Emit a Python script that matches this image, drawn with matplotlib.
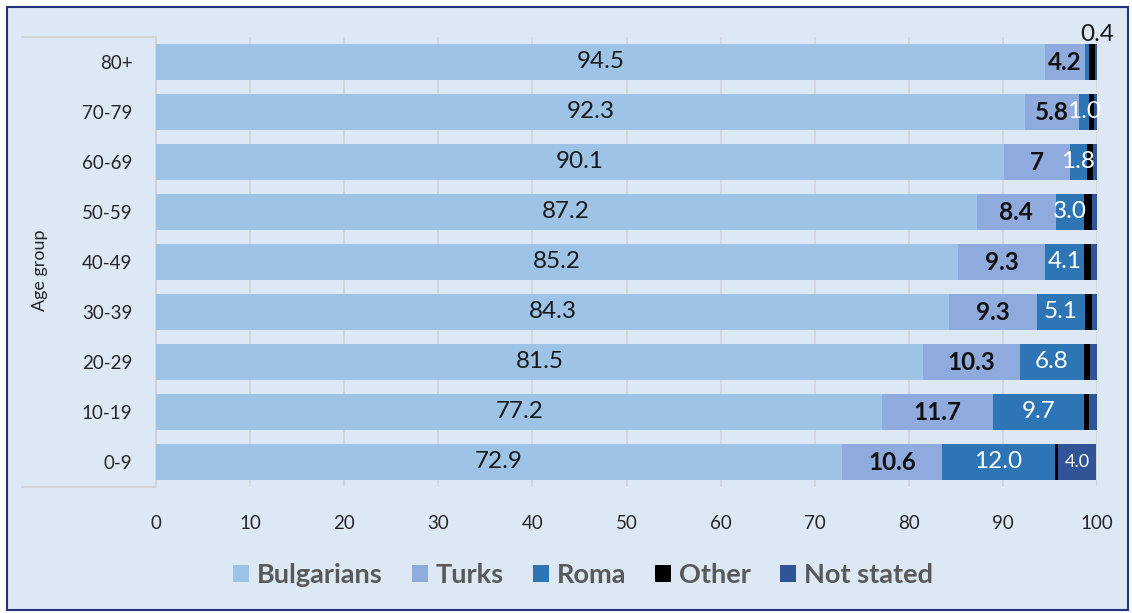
import matplotlib
matplotlib.use("Agg")
import matplotlib.pyplot as plt
from matplotlib.patches import Rectangle
from matplotlib.lines import Line2D
import numpy as np

plt.rcParams['font.family'] = ['Lato', 'DejaVu Sans']

age_groups = ["0-9", "10-19", "20-29", "30-39", "40-49", "50-59", "60-69", "70-79", "80+"]
bulgarians = [72.9, 77.2, 81.5, 84.3, 85.2, 87.2, 90.1, 92.3, 94.5]
turks      = [10.6, 11.7, 10.3, 9.3, 9.3, 8.4, 7.0, 5.8, 4.2]
roma       = [12.0, 9.7, 6.8, 5.1, 4.1, 3.0, 1.8, 1.0, 0.4]
other      = [0.4, 0.5, 0.7, 0.8, 0.8, 0.9, 0.7, 0.6, 0.7]
not_stated = [4.0, 0.9, 0.7, 0.5, 0.6, 0.5, 0.4, 0.3, 0.2]

bulg_labels = ["72.9", "77.2", "81.5", "84.3", "85.2", "87.2", "90.1", "92.3", "94.5"]
turk_labels = ["10.6", "11.7", "10.3", "9.3", "9.3", "8.4", "7", "5.8", "4.2"]
roma_labels = ["12.0", "9.7", "6.8", "5.1", "4.1", "3.0", "1.8", "1.0", "0.4"]
ns_labels   = ["4.0", "", "", "", "", "", "", "", ""]

series_names = ["Bulgarians", "Turks", "Roma", "Other", "Not stated"]
colors = ["#9dc3e6", "#8faadc", "#2e75b6", "#000000", "#2f5597"]
bg = "#dde8f5"

W, H = 1132, 613
fig = plt.figure(figsize=(W/100, H/100), dpi=100)
fig.patch.set_facecolor("white")
fig.patches.append(Rectangle((7/W, 3/H), (W-11)/W, (H-10)/H, transform=fig.transFigure,
                             facecolor=bg, edgecolor="#1f3580", linewidth=1.5, zorder=-10))

ax_l, ax_r, ax_t, ax_b = 156, 1097, 37, 487
ax = fig.add_axes([ax_l/W, 1-ax_b/H, (ax_r-ax_l)/W, (ax_b-ax_t)/H])
ax.set_facecolor("none")

y = np.arange(len(age_groups))
data = [bulgarians, turks, roma, other, not_stated]
left = np.zeros(len(age_groups))
bars = []
for vals, c, name in zip(data, colors, series_names):
    b = ax.barh(y, vals, left=left, height=0.72, color=c, label=name, zorder=3)
    bars.append((b, left.copy(), np.array(vals)))
    left = left + np.array(vals)

ax.set_xlim(0, 100)
ax.set_ylim(-0.5, len(age_groups) - 0.5)
ax.set_xticks(np.arange(0, 101, 10))
ax.set_yticks(y)
ax.set_yticklabels(age_groups, fontsize=13.5, color="#262626")
ax.tick_params(axis='x', labelsize=13.5, colors="#262626", length=0, pad=20)
ax.tick_params(axis='y', length=0, pad=17)
ax.grid(axis='x', color="#d4d4d4", linewidth=1.2, zorder=0)
for s in ["top", "right", "bottom"]:
    ax.spines[s].set_visible(False)
ax.spines["left"].set_color("#d0d0d0")
ax.spines["left"].set_linewidth(1.2)

# multilevel category box lines
for yy in [0.0, 1.0]:
    ax.add_line(Line2D([(22-ax_l)/(ax_r-ax_l), 0], [yy, yy], transform=ax.transAxes,
                       color="#d0d0d0", linewidth=1.2, clip_on=False))
fig.text(40/W, 1-270/H, "Age group", rotation=90, ha="center", va="center",
         fontsize=13, color="#262626")

# labels
lab_sets = [(bulg_labels, 0, "#1a1a1a", "normal", 17.5),
            (turk_labels, 1, "#111111", "bold", 17.5),
            (roma_labels, 2, "white", "normal", 17.5),
            (ns_labels, 4, "white", "normal", 13)]
for labels, idx, col, wt, fs in lab_sets:
    b, lft, vals = bars[idx]
    for i, t in enumerate(labels):
        if not t:
            continue
        if idx == 2 and i == len(age_groups) - 1:
            continue
        ax.text(lft[i] + vals[i] / 2, y[i], t, ha="center", va="center",
                color=col, fontweight=wt, fontsize=fs, zorder=5)
# outside label for 80+ Roma
b, lft, vals = bars[2]
ax.text(100.0, y[-1] + 0.55, roma_labels[-1], ha="center", va="center",
        fontsize=17.5, color="#1a1a1a", zorder=5, clip_on=False)

leg = fig.legend(loc="center", bbox_to_anchor=(0.515, 1-575/H), ncol=5, frameon=False,
                 handlelength=0.58, handleheight=0.58, handletextpad=0.3, columnspacing=1.07,
                 prop={"size": 19.5, "weight": "bold"})
for t in leg.get_texts():
    t.set_color("#595959")

fig.savefig("out.png", dpi=100, facecolor=fig.get_facecolor())
